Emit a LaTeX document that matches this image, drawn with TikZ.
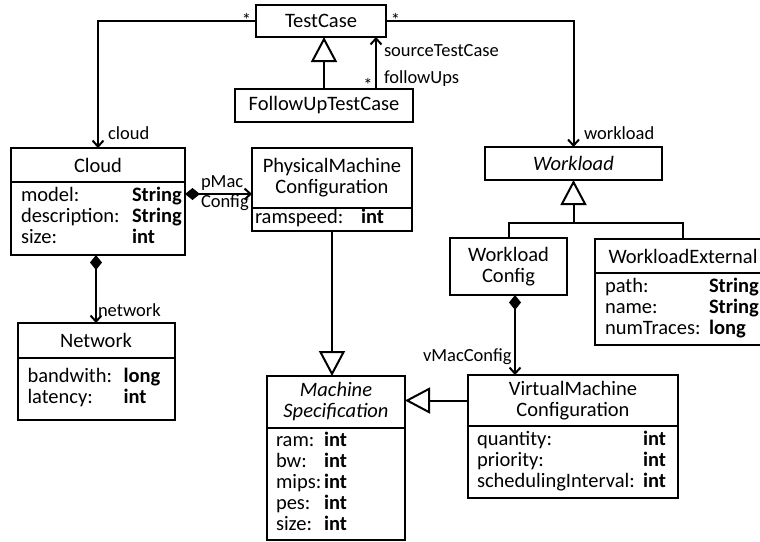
\documentclass[tikz,border=0pt]{standalone}
\usepackage{fontspec}
\setmainfont{Carlito}
\usetikzlibrary{arrows.meta,calc}
\newcommand\clsfont{\fontsize{20.5}{21}\selectfont}
\newcommand\lblfont{\fontsize{18.5}{19}\selectfont}
% attribute compartment: fixed first column, then the bold type
\newcommand\attrlist[2]{\begin{tabular}{@{}p{#1pt}@{}l@{}}#2\end{tabular}}

\begin{document}
\begin{tikzpicture}[x=1pt,y=-1pt,line width=2pt,
  head/.style={draw, anchor=north west, inner sep=0pt, outer sep=0pt, align=center, font=\clsfont},
  attr/.style={draw, anchor=north west, inner ysep=0pt, outer sep=0pt, align=left, font=\clsfont},
  lbl/.style={inner sep=0pt, font=\lblfont},
  assoc/.style={-{Straight Barb[length=6pt,width=11pt]}},
  gen/.style={-{Triangle[open,length=25pt,width=26pt]}},
  comp/.style={{Diamond[length=15pt,width=12pt]}-{Straight Barb[length=6pt,width=11pt]}}]

\useasboundingbox (0,0) rectangle (760,541);
\clip (0,0) rectangle (760,541);

% classes
\node[head, minimum width=130pt, minimum height=32pt] (tc) at (256,5) {TestCase};
\node[head, minimum width=178pt, minimum height=33pt] (fu) at (235,89) {FollowUpTestCase};

\node[head, minimum width=174pt, minimum height=34pt] (cloudH) at (11,148) {Cloud};
\node[attr, minimum width=174pt, minimum height=73pt, inner xsep=10pt, text width=154pt] (cloudA) at (cloudH.south west)
  {\attrlist{111}{model: & \textbf{String}\\ description: & \textbf{String}\\ size: & \textbf{int}}};

\node[head, minimum width=160pt, minimum height=60pt] (pmcH) at (252,148) {PhysicalMachine\\Configuration};
\node[attr, minimum width=160pt, minimum height=23pt, inner xsep=3pt, text width=154pt] (pmcA) at (pmcH.south west)
  {\attrlist{106}{ramspeed: & \textbf{int}}};

\node[head, minimum width=157pt, minimum height=35pt] (netH) at (17.5,323) {Network};
\node[attr, minimum width=157pt, minimum height=62pt, inner xsep=10pt, text width=137pt] (netA) at (netH.south west)
  {\attrlist{96}{bandwith: & \textbf{long}\\ latency: & \textbf{int}}};

\node[head, minimum width=177pt, minimum height=33pt, font=\clsfont\itshape] (wl) at (485,147) {Workload};
\node[head, minimum width=117pt, minimum height=57pt] (wc) at (450,238) {Workload\\Config};

\node[head, minimum width=176pt, minimum height=34pt] (weH) at (595,239) {WorkloadExternal};
\node[attr, minimum width=176pt, minimum height=72pt, inner xsep=10pt, text width=156pt] (weA) at (weH.south west)
  {\attrlist{104}{path: & \textbf{String}\\ name: & \textbf{String}\\ numTraces: & \textbf{long}}};

\node[head, minimum width=138pt, minimum height=52pt, font=\clsfont\itshape] (msH) at (267,376) {Machine\\Specification};
\node[attr, minimum width=138pt, minimum height=112pt, inner xsep=9pt, text width=120pt] (msA) at (msH.south west)
  {\attrlist{48}{ram: & \textbf{int}\\ bw: & \textbf{int}\\ mips: & \textbf{int}\\ pes: & \textbf{int}\\ size: & \textbf{int}}};

\node[head, minimum width=210pt, minimum height=51pt] (vmcH) at (468,375) {VirtualMachine\\Configuration};
\node[attr, minimum width=210pt, minimum height=72pt, inner xsep=9pt, text width=192pt] (vmcA) at (vmcH.south west)
  {\attrlist{166}{quantity: & \textbf{int}\\ priority: & \textbf{int}\\ schedulingInterval: & \textbf{int}}};

% associations
\draw[assoc] (tc.west) -| (cloudH.north);
\draw[assoc] (tc.east) -| (wl.north);
\draw[gen] (fu.north) -- (fu.north |- tc.south);
\coordinate (fuArrow) at ($(fu.north)+(52,0)$);
\draw[assoc] (fuArrow) -- (fuArrow |- tc.south);

\coordinate (pm) at ($(cloudA.north east)+(0,12)$);
\draw[comp] (pm) -- (pm -| pmcH.west);
\draw[comp] (cloudA.south -| netH.north) -- (netH.north);
\draw[gen] (pmcA.south) -- (pmcA.south |- msH.north);
\draw[gen] (vmcH.west) -- (vmcH.west -| msH.east);
\coordinate (wv) at ($(wc.south)+(6.5,0)$);
\draw[comp] (wv) -- (wv |- vmcH.north);

\coordinate (wj) at ($(wl.south)+(0,43)$);
\draw (wc.north) |- (wj) -| (weH.north);
\draw[gen] (wj) -- (wl.south);

% role names and multiplicities
\node[lbl] (m1) at (246.5,20) {*};
\node[lbl] (m2) at (395.5,20) {*};
\node[lbl] (m3) at (368,84.5) {*};
\node[lbl, anchor=west] (r1) at (107,133) {cloud};
\node[lbl, anchor=west] (r2) at (583,133) {workload};
\node[lbl, anchor=west] (r3) at (383,51) {sourceTestCase};
\node[lbl, anchor=west] (r4) at (383,79) {followUps};
\node[lbl, anchor=west] (r5) at (200,183) {pMac};
\node[lbl, anchor=west] (r6) at (200,203) {Config};
\node[lbl, anchor=west] (r7) at (97,310) {network};
\node[lbl, anchor=west] (r8) at (422,357) {vMacConfig};
\end{tikzpicture}
\end{document}
